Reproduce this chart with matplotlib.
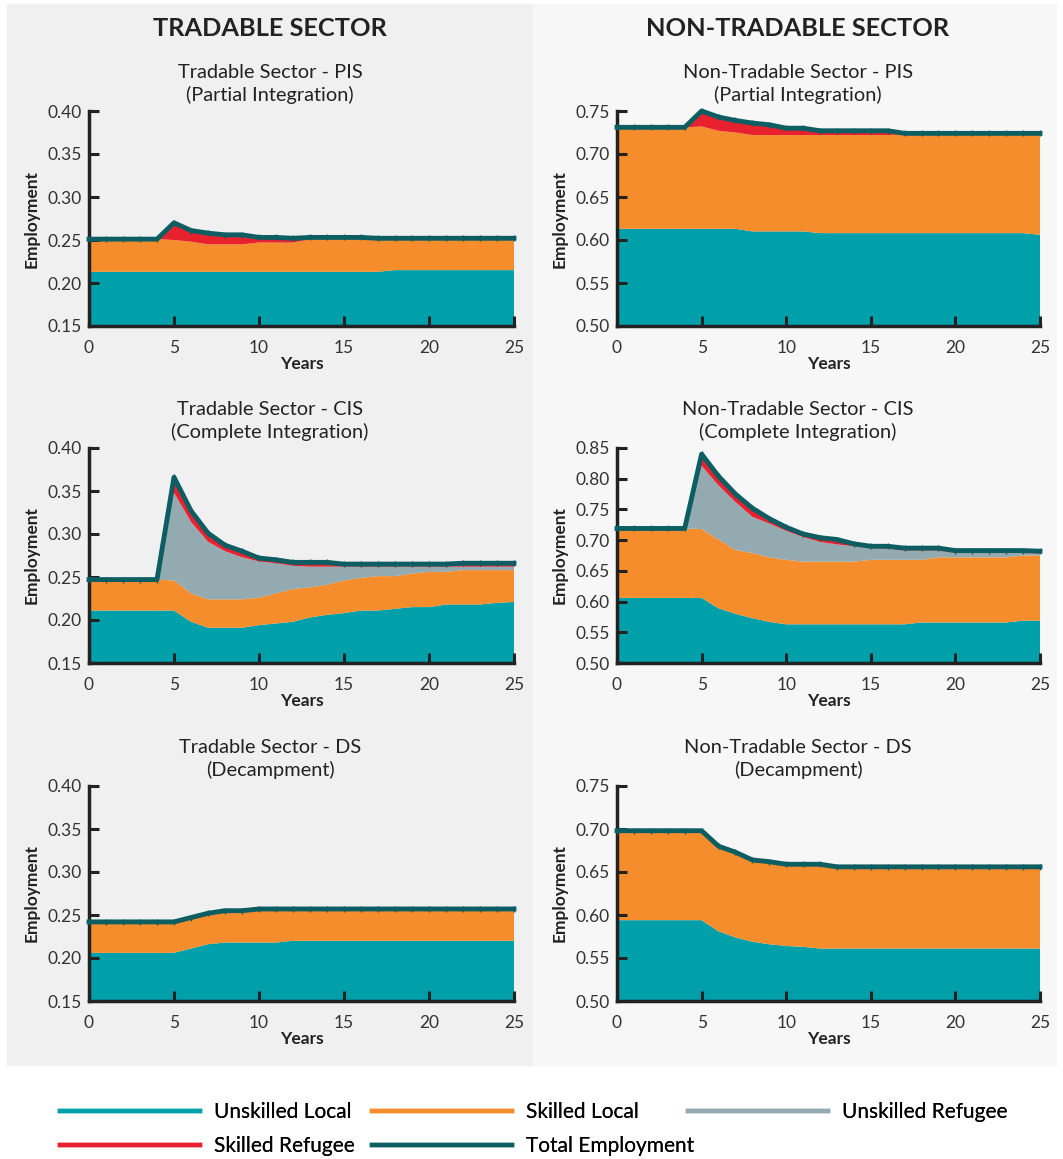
import matplotlib.pyplot as plt
import matplotlib.patches as mpatches
from matplotlib.lines import Line2D
import numpy as np

plt.rcParams['font.family'] = ['Lato', 'DejaVu Sans']

years = np.arange(26)

# employment shares per group (stacked layers), one list per scenario
# Tradable sector - PIS
t_pis_ul = [0.213] * 18 + [0.215] * 8
t_pis_sl = [0.038, 0.038, 0.038, 0.038, 0.038, 0.037, 0.035, 0.032, 0.032, 0.032,
            0.034, 0.034, 0.034, 0.038, 0.038, 0.038, 0.038, 0.038, 0.036, 0.036,
            0.036, 0.036, 0.036, 0.036, 0.036, 0.036]
t_pis_ur = [0.0] * 26
t_pis_sr = [0, 0, 0, 0, 0, 0.020, 0.013, 0.013, 0.011, 0.011,
            0.006, 0.006, 0.005, 0.002, 0.002, 0.002, 0.002, 0.001, 0.001, 0.001,
            0.001, 0.001, 0.001, 0.001, 0.001, 0.001]

# Non-tradable sector - PIS
nt_pis_ul = [0.613] * 8 + [0.610] * 4 + [0.608] * 13 + [0.606]
nt_pis_sl = [0.118, 0.118, 0.118, 0.118, 0.118, 0.119, 0.114, 0.112, 0.112, 0.112,
             0.112, 0.112, 0.114, 0.114, 0.114, 0.114, 0.114, 0.115, 0.115, 0.115,
             0.115, 0.115, 0.115, 0.115, 0.115, 0.117]
nt_pis_ur = [0.0] * 26
nt_pis_sr = [0, 0, 0, 0, 0, 0.018, 0.016, 0.014, 0.014, 0.012,
             0.008, 0.008, 0.005, 0.005, 0.005, 0.005, 0.005, 0.001, 0.001, 0.001,
             0.001, 0.001, 0.001, 0.001, 0.001, 0.001]

# Tradable sector - CIS
t_cis_ul = [0.211, 0.211, 0.211, 0.211, 0.211, 0.211, 0.198, 0.191, 0.191, 0.191,
            0.194, 0.196, 0.198, 0.203, 0.206, 0.208, 0.211, 0.211, 0.213, 0.215,
            0.215, 0.218, 0.218, 0.218, 0.220, 0.221]
t_cis_sl = [0.036, 0.036, 0.036, 0.036, 0.036, 0.035, 0.033, 0.033, 0.033, 0.033,
            0.032, 0.035, 0.038, 0.035, 0.035, 0.038, 0.038, 0.040, 0.038, 0.039,
            0.041, 0.038, 0.040, 0.040, 0.038, 0.037]
t_cis_ur = [0, 0, 0, 0, 0, 0.102, 0.083, 0.067, 0.056, 0.049,
            0.042, 0.035, 0.027, 0.024, 0.021, 0.016, 0.013, 0.011, 0.011, 0.008,
            0.006, 0.006, 0.004, 0.004, 0.004, 0.004]
t_cis_sr = [0, 0, 0, 0, 0, 0.018, 0.013, 0.010, 0.007, 0.007,
            0.004, 0.004, 0.004, 0.005, 0.005, 0.003, 0.003, 0.003, 0.003, 0.003,
            0.003, 0.003, 0.004, 0.004, 0.004, 0.004]

# Non-tradable sector - CIS
nt_cis_ul = [0.606, 0.606, 0.606, 0.606, 0.606, 0.606, 0.589, 0.580, 0.573, 0.567,
             0.563, 0.563, 0.563, 0.563, 0.563, 0.563, 0.563, 0.563, 0.566, 0.566,
             0.566, 0.566, 0.566, 0.566, 0.569, 0.569]
nt_cis_sl = [0.113, 0.113, 0.113, 0.113, 0.113, 0.112, 0.112, 0.104, 0.106, 0.105,
             0.105, 0.102, 0.102, 0.102, 0.102, 0.105, 0.105, 0.105, 0.102, 0.106,
             0.106, 0.106, 0.106, 0.106, 0.106, 0.106]
nt_cis_ur = [0, 0, 0, 0, 0, 0.103, 0.088, 0.078, 0.059, 0.055,
             0.047, 0.040, 0.032, 0.028, 0.025, 0.019, 0.018, 0.015, 0.015, 0.011,
             0.007, 0.007, 0.007, 0.007, 0.004, 0.003]
nt_cis_sr = [0, 0, 0, 0, 0, 0.019, 0.015, 0.013, 0.014, 0.008,
             0.006, 0.005, 0.007, 0.008, 0.004, 0.003, 0.004, 0.004, 0.004, 0.004,
             0.004, 0.004, 0.004, 0.004, 0.004, 0.004]

# Tradable sector - DS
t_ds_ul = [0.206] * 6 + [0.211, 0.216, 0.218, 0.218, 0.218, 0.218] + [0.220] * 14
t_ds_sl = [0.036] * 8 + [0.037, 0.037, 0.039, 0.039] + [0.037] * 14
t_ds_ur = [0.0] * 26
t_ds_sr = [0.0] * 26

# Non-tradable sector - DS
nt_ds_ul = [0.594] * 6 + [0.581, 0.574, 0.569, 0.566, 0.564, 0.563] + [0.561] * 14
nt_ds_sl = [0.104] * 6 + [0.099, 0.099, 0.095, 0.096, 0.095, 0.096, 0.098] + [0.095] * 13
nt_ds_ur = [0.0] * 26
nt_ds_sr = [0.0] * 26

panels = [
    ("Tradable Sector - PIS\n(Partial Integration)", (t_pis_ul, t_pis_sl, t_pis_ur, t_pis_sr), (0.15, 0.40)),
    ("Non-Tradable Sector - PIS\n(Partial Integration)", (nt_pis_ul, nt_pis_sl, nt_pis_ur, nt_pis_sr), (0.50, 0.75)),
    ("Tradable Sector - CIS\n(Complete Integration)", (t_cis_ul, t_cis_sl, t_cis_ur, t_cis_sr), (0.15, 0.40)),
    ("Non-Tradable Sector - CIS\n(Complete Integration)", (nt_cis_ul, nt_cis_sl, nt_cis_ur, nt_cis_sr), (0.50, 0.85)),
    ("Tradable Sector - DS\n(Decampment)", (t_ds_ul, t_ds_sl, t_ds_ur, t_ds_sr), (0.15, 0.40)),
    ("Non-Tradable Sector - DS\n(Decampment)", (nt_ds_ul, nt_ds_sl, nt_ds_ur, nt_ds_sr), (0.50, 0.75)),
]

labels = ["Unskilled Local", "Skilled Local", "Unskilled Refugee", "Skilled Refugee", "Total Employment"]
colors = ["#00a0ab", "#f68d2c", "#92aab0", "#e8212f", "#0c5e62"]

W, H = 1063, 1159
fig = plt.figure(figsize=(W / 100, H / 100), dpi=100)

# panel backgrounds
fig.patches.append(mpatches.Rectangle((7 / W, 1 - 1065 / H), (533 - 7) / W, (1065 - 4) / H,
                                      transform=fig.transFigure, color="#f0f0f0", zorder=-10))
fig.patches.append(mpatches.Rectangle((533 / W, 1 - 1065 / H), (1056 - 533) / W, (1065 - 4) / H,
                                      transform=fig.transFigure, color="#f7f7f7", zorder=-10))

centers = [270 / W, 798 / W]
fig.text(centers[0], 1 - 28 / H, "TRADABLE SECTOR", ha="center", va="center",
         fontsize=18.3, fontweight="bold", color="#222222")
fig.text(centers[1], 1 - 28 / H, "NON-TRADABLE SECTOR", ha="center", va="center",
         fontsize=18.3, fontweight="bold", color="#222222")

lefts = [89 / W, 617 / W]
widths = [425 / W, 423 / W]
tops = [111, 448, 786]
ax_h = 215

for i, (title, layers, ylim) in enumerate(panels):
    row, col = divmod(i, 2)
    bottom = 1 - (tops[row] + ax_h) / H
    ax = fig.add_axes([lefts[col], bottom, widths[col], ax_h / H])
    ax.set_facecolor("none")
    ax.stackplot(years, *layers, colors=colors[:4], linewidth=0)
    total = np.sum(layers, axis=0)
    ax.plot(years, total, color=colors[4], lw=3.5, marker="|", markersize=4,
            markeredgewidth=1, clip_on=False, zorder=5)
    ax.set_xlim(0, 25)
    ax.set_ylim(*ylim)
    ax.set_xticks([0, 5, 10, 15, 20, 25])
    ax.set_yticks(np.arange(ylim[0], ylim[1] + 0.001, 0.05))
    ax.yaxis.set_major_formatter(lambda v, _: f"{v:.2f}")
    for s in ["top", "right"]:
        ax.spines[s].set_visible(False)
    for s in ["left", "bottom"]:
        ax.spines[s].set_linewidth(2.5)
        ax.spines[s].set_color("#222222")
    ax.tick_params(direction="in", length=7, width=2.2, color="#222222",
                   labelsize=12.5, labelcolor="#333333", pad=5)
    ax.tick_params(axis="x", pad=10)
    ax.set_xlabel("Years", fontsize=12.5, fontweight="bold", color="#222222", labelpad=0)
    ax.set_ylabel("Employment", fontsize=12.5, fontweight="bold", color="#222222", labelpad=6)
    # subplot title centred on its half of the page
    fig.text(centers[col], 1 - (tops[row] - 27) / H, title, ha="center", va="center",
             fontsize=14.4, color="#222222", linespacing=1.32)

# legend laid out on an even grid, one entry per slot
slots = [(60, 1112), (372, 1112), (688, 1112), (60, 1146), (372, 1146)]
for (x, y), c, lab in zip(slots, colors, labels):
    h = Line2D([0], [0], color=c, lw=3.2)
    leg = fig.legend([h], [lab], loc="center left", bbox_to_anchor=(x / W, 1 - y / H),
                     frameon=False, fontsize=15, handlelength=6.7, handletextpad=0.67,
                     borderaxespad=0, borderpad=0)
    fig.add_artist(leg)

fig.savefig("out.png", dpi=100, facecolor="white")
